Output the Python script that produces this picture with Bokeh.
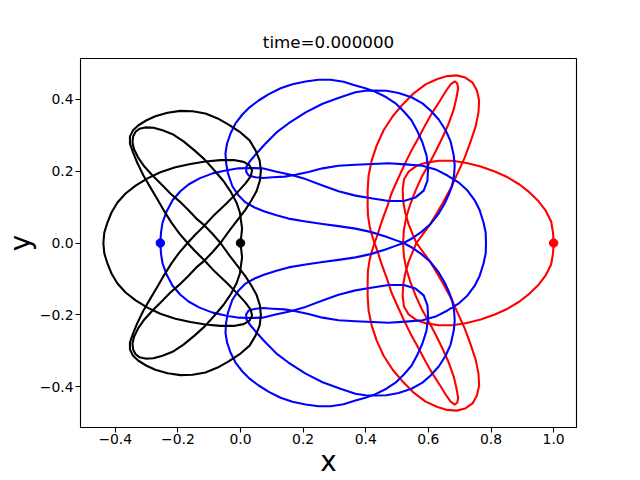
from bokeh.plotting import figure
from bokeh.models import Range1d, FixedTicker
from bokeh.embed import file_html
from bokeh.resources import INLINE

# ---- title / labels / ticks ----
title_text = "time=0.000000"
x_label = "x"
y_label = "y"
x_ticks = [-0.4, -0.2, 0.0, 0.2, 0.4, 0.6, 0.8, 1.0]
x_tick_labels = ["\u22120.4", "\u22120.2", "0.0", "0.2", "0.4", "0.6", "0.8", "1.0"]
y_ticks = [-0.4, -0.2, 0.0, 0.2, 0.4]
y_tick_labels = ["\u22120.4", "\u22120.2", "0.0", "0.2", "0.4"]

# ---- starting positions of the three bodies ----
body_colors = ["red", "blue", "black"]
start_x = [1.0, -0.256, 0.0]
start_y = [0.0, 0.0, 0.0]

# ---- black orbit (upper-half pieces and their mirror images) ----
black_a_x = [0.000, 0.005, -0.002, -0.013, -0.032, -0.054, -0.083, -0.115, -0.147, -0.182,
             -0.217, -0.249, -0.278, -0.304, -0.323, -0.335, -0.343, -0.345, -0.340, -0.327,
             -0.307, -0.281, -0.252, -0.224, -0.195, -0.166, -0.141, -0.115, -0.089, -0.064]
black_a_y = [0.000, 0.040, 0.085, 0.113, 0.144, 0.172, 0.202, 0.233, 0.258, 0.283,
             0.303, 0.314, 0.321, 0.322, 0.318, 0.310, 0.297, 0.280, 0.261, 0.238,
             0.213, 0.188, 0.163, 0.138, 0.116, 0.091, 0.068, 0.049, 0.025, 0.000]
black_a_y_low = [-0.000, -0.040, -0.085, -0.113, -0.144, -0.172, -0.202, -0.233, -0.258, -0.283,
                 -0.303, -0.314, -0.321, -0.322, -0.318, -0.310, -0.297, -0.280, -0.261, -0.238,
                 -0.213, -0.188, -0.163, -0.138, -0.116, -0.091, -0.068, -0.049, -0.025, -0.000]

black_b_x = [-0.169, -0.195, -0.220, -0.243, -0.265, -0.288, -0.310, -0.329, -0.343, -0.353,
             -0.353, -0.343, -0.326, -0.300, -0.272, -0.233, -0.192, -0.153, -0.112, -0.073,
             -0.038, 0.000, 0.029, 0.048, 0.061, 0.065, 0.062, 0.051, 0.035, 0.016,
             -0.006, -0.035, -0.064]
black_b_y = [0.000, 0.026, 0.056, 0.088, 0.121, 0.155, 0.188, 0.222, 0.252, 0.277,
             0.297, 0.314, 0.328, 0.342, 0.353, 0.363, 0.368, 0.367, 0.361, 0.347,
             0.330, 0.308, 0.286, 0.258, 0.230, 0.202, 0.174, 0.144, 0.119, 0.093,
             0.068, 0.035, 0.000]
black_b_y_low = [-0.000, -0.026, -0.056, -0.088, -0.121, -0.155, -0.188, -0.222, -0.252, -0.277,
                 -0.297, -0.314, -0.328, -0.342, -0.353, -0.363, -0.368, -0.367, -0.361, -0.347,
                 -0.330, -0.308, -0.286, -0.258, -0.230, -0.202, -0.174, -0.144, -0.119, -0.093,
                 -0.068, -0.035, -0.000]

black_c_x = [-0.438, -0.435, -0.425, -0.412, -0.393, -0.367, -0.335, -0.297, -0.256, -0.208,
             -0.160, -0.112, -0.064, -0.022, 0.010, 0.029, 0.037, 0.032, 0.016, -0.010,
             -0.045, -0.083, -0.118, -0.147, -0.169]
black_c_y = [0.000, 0.029, 0.057, 0.085, 0.113, 0.138, 0.160, 0.180, 0.197, 0.211,
             0.220, 0.227, 0.231, 0.231, 0.226, 0.216, 0.202, 0.185, 0.166, 0.141,
             0.110, 0.079, 0.046, 0.021, 0.000]
black_c_y_low = [-0.000, -0.029, -0.057, -0.085, -0.113, -0.138, -0.160, -0.180, -0.197, -0.211,
                 -0.220, -0.227, -0.231, -0.231, -0.226, -0.216, -0.202, -0.185, -0.166, -0.141,
                 -0.110, -0.079, -0.046, -0.021, -0.000]

# ---- blue orbit ----
blue_a_x = [-0.256, -0.254, -0.249, -0.236, -0.217, -0.192, -0.166, -0.131, -0.089, -0.048,
            -0.006, 0.032, 0.070, 0.112, 0.160, 0.208, 0.262, 0.313, 0.367, 0.422,
            0.473, 0.521, 0.559, 0.585, 0.597, 0.599, 0.594, 0.581, 0.565, 0.546,
            0.521, 0.495, 0.466, 0.431, 0.399, 0.367, 0.329, 0.288, 0.249, 0.208,
            0.166, 0.128, 0.089, 0.058, 0.029, 0.006, -0.016, -0.032, -0.043, -0.048,
            -0.046, -0.040, -0.026, -0.006, 0.016, 0.045, 0.077, 0.115, 0.153, 0.208,
            0.262, 0.313, 0.367, 0.415, 0.463, 0.495, 0.521]
blue_a_y = [0.000, 0.029, 0.057, 0.088, 0.119, 0.144, 0.163, 0.180, 0.194, 0.202,
            0.208, 0.209, 0.208, 0.199, 0.190, 0.178, 0.160, 0.144, 0.132, 0.124,
            0.117, 0.117, 0.127, 0.146, 0.174, 0.208, 0.244, 0.280, 0.311, 0.342,
            0.367, 0.389, 0.406, 0.421, 0.431, 0.439, 0.449, 0.455, 0.455, 0.450,
            0.442, 0.431, 0.414, 0.397, 0.378, 0.358, 0.333, 0.305, 0.277, 0.250,
            0.222, 0.194, 0.158, 0.132, 0.113, 0.099, 0.088, 0.077, 0.068, 0.060,
            0.053, 0.047, 0.040, 0.031, 0.018, 0.008, 0.000]
blue_a_y_low = [-0.000, -0.029, -0.057, -0.088, -0.119, -0.144, -0.163, -0.180, -0.194, -0.202,
                -0.208, -0.209, -0.208, -0.199, -0.190, -0.178, -0.160, -0.144, -0.132, -0.124,
                -0.117, -0.117, -0.127, -0.146, -0.174, -0.208, -0.244, -0.280, -0.311, -0.342,
                -0.367, -0.389, -0.406, -0.421, -0.431, -0.439, -0.449, -0.455, -0.455, -0.450,
                -0.442, -0.431, -0.414, -0.397, -0.378, -0.358, -0.333, -0.305, -0.277, -0.250,
                -0.222, -0.194, -0.158, -0.132, -0.113, -0.099, -0.088, -0.077, -0.068, -0.060,
                -0.053, -0.047, -0.040, -0.031, -0.018, -0.008, -0.000]

blue_b_x = [0.521, 0.550, 0.578, 0.607, 0.633, 0.652, 0.665, 0.676, 0.682, 0.684,
            0.681, 0.671, 0.655, 0.633, 0.607, 0.581, 0.546, 0.505, 0.466, 0.431,
            0.399, 0.367, 0.319, 0.262, 0.208, 0.153, 0.115, 0.080, 0.054, 0.032,
            0.019, 0.018, 0.026, 0.048, 0.073, 0.102, 0.141, 0.176, 0.217, 0.262,
            0.313, 0.367, 0.422, 0.473, 0.527, 0.581, 0.623, 0.661, 0.696, 0.725,
            0.748, 0.764, 0.776, 0.783, 0.784]
blue_b_y = [0.000, 0.014, 0.031, 0.053, 0.082, 0.110, 0.135, 0.160, 0.188, 0.216,
            0.244, 0.283, 0.314, 0.344, 0.369, 0.389, 0.406, 0.418, 0.424, 0.425,
            0.424, 0.420, 0.406, 0.388, 0.364, 0.333, 0.308, 0.277, 0.252, 0.230,
            0.213, 0.199, 0.188, 0.183, 0.181, 0.183, 0.185, 0.190, 0.198, 0.208,
            0.215, 0.218, 0.220, 0.222, 0.219, 0.215, 0.205, 0.188, 0.169, 0.146,
            0.119, 0.091, 0.057, 0.029, 0.000]
blue_b_y_low = [-0.000, -0.014, -0.031, -0.053, -0.082, -0.110, -0.135, -0.160, -0.188, -0.216,
                -0.244, -0.283, -0.314, -0.344, -0.369, -0.389, -0.406, -0.418, -0.424, -0.425,
                -0.424, -0.420, -0.406, -0.388, -0.364, -0.333, -0.308, -0.277, -0.252, -0.230,
                -0.213, -0.199, -0.188, -0.183, -0.181, -0.183, -0.185, -0.190, -0.198, -0.208,
                -0.215, -0.218, -0.220, -0.222, -0.219, -0.215, -0.205, -0.188, -0.169, -0.146,
                -0.119, -0.091, -0.057, -0.029, -0.000]

# ---- red orbit ----
red_a_x = [1.000, 0.998, 0.992, 0.974, 0.952, 0.923, 0.891, 0.853, 0.812, 0.767,
           0.722, 0.677, 0.633, 0.594, 0.562, 0.537, 0.522, 0.518, 0.519, 0.526,
           0.537, 0.550, 0.562]
red_a_y = [0.000, 0.029, 0.060, 0.091, 0.116, 0.141, 0.163, 0.183, 0.199, 0.213,
           0.223, 0.229, 0.229, 0.224, 0.215, 0.199, 0.177, 0.149, 0.119, 0.085,
           0.052, 0.024, 0.000]
red_a_y_low = [-0.000, -0.029, -0.060, -0.091, -0.116, -0.141, -0.163, -0.183, -0.199, -0.213,
               -0.223, -0.229, -0.229, -0.224, -0.215, -0.199, -0.177, -0.149, -0.119, -0.085,
               -0.052, -0.024, -0.000]

red_b_x = [0.428, 0.419, 0.412, 0.407, 0.406, 0.406, 0.409, 0.419, 0.435, 0.457,
           0.486, 0.518, 0.553, 0.591, 0.629, 0.660, 0.690, 0.718, 0.741, 0.755,
           0.762, 0.760, 0.751, 0.735, 0.716, 0.693, 0.671, 0.645, 0.623, 0.601,
           0.582, 0.562]
red_b_y = [0.000, 0.024, 0.049, 0.077, 0.105, 0.146, 0.188, 0.230, 0.272, 0.314,
           0.353, 0.386, 0.417, 0.442, 0.457, 0.465, 0.467, 0.461, 0.447, 0.425,
           0.397, 0.364, 0.325, 0.283, 0.238, 0.194, 0.152, 0.110, 0.077, 0.046,
           0.024, 0.000]
red_b_y_low = [-0.000, -0.024, -0.049, -0.077, -0.105, -0.146, -0.188, -0.230, -0.272, -0.314,
               -0.353, -0.386, -0.417, -0.442, -0.457, -0.465, -0.467, -0.461, -0.447, -0.425,
               -0.397, -0.364, -0.325, -0.283, -0.238, -0.194, -0.152, -0.110, -0.077, -0.046,
               -0.024, -0.000]

red_c_x = [0.428, 0.438, 0.447, 0.457, 0.470, 0.482, 0.502, 0.524, 0.546, 0.569,
           0.591, 0.613, 0.636, 0.655, 0.671, 0.684, 0.692, 0.695, 0.690, 0.681,
           0.665, 0.645, 0.623, 0.601, 0.578, 0.559, 0.543, 0.530, 0.522, 0.519]
red_c_y = [0.000, 0.024, 0.049, 0.074, 0.105, 0.138, 0.177, 0.219, 0.258, 0.294,
           0.330, 0.364, 0.395, 0.422, 0.442, 0.450, 0.445, 0.431, 0.406, 0.372,
           0.333, 0.294, 0.255, 0.219, 0.183, 0.146, 0.110, 0.074, 0.038, 0.000]
red_c_y_low = [-0.000, -0.024, -0.049, -0.074, -0.105, -0.138, -0.177, -0.219, -0.258, -0.294,
               -0.330, -0.364, -0.395, -0.422, -0.442, -0.450, -0.445, -0.431, -0.406, -0.372,
               -0.333, -0.294, -0.255, -0.219, -0.183, -0.146, -0.110, -0.074, -0.038, -0.000]

FONT = "DejaVu Sans"

p = figure(width=624, height=480,
           min_border_left=80, min_border_right=48, min_border_top=58, min_border_bottom=53,
           x_range=Range1d(-0.511, 1.073), y_range=Range1d(-0.514, 0.514),
           output_backend="svg", toolbar_location=None, title=title_text)

p.background_fill_color = "white"
p.border_fill_color = "white"
p.outline_line_color = "black"
p.outline_line_width = 1.1
p.xgrid.visible = False
p.ygrid.visible = False

p.title.align = "center"
p.title.text_font = FONT
p.title.text_font_size = "16.7px"
p.title.text_font_style = "normal"
p.title.text_color = "black"
p.title.standoff = 13

p.xaxis.ticker = FixedTicker(ticks=x_ticks)
p.yaxis.ticker = FixedTicker(ticks=y_ticks)
p.xaxis.major_label_overrides = dict(zip(x_ticks, x_tick_labels))
p.yaxis.major_label_overrides = dict(zip(y_ticks, y_tick_labels))
p.xaxis.axis_label = x_label
p.yaxis.axis_label = y_label

for ax in (p.xaxis[0], p.yaxis[0]):
    ax.axis_line_color = None
    ax.major_tick_line_color = "black"
    ax.major_tick_line_width = 1.1
    ax.major_tick_out = 5
    ax.major_tick_in = 0
    ax.minor_tick_line_color = None
    ax.major_label_text_font = FONT
    ax.major_label_text_font_size = "13.9px"
    ax.major_label_text_color = "black"
    ax.major_label_standoff = 2
    ax.axis_label_text_font = FONT
    ax.axis_label_text_font_size = "27.8px"
    ax.axis_label_text_font_style = "normal"
    ax.axis_label_text_color = "black"
    ax.axis_label_standoff = 0

p.xaxis[0].major_label_standoff = 1
p.xaxis[0].axis_label_standoff = -2

segments = [
    (red_a_x, red_a_y, red_a_y_low, "red"),
    (red_b_x, red_b_y, red_b_y_low, "red"),
    (red_c_x, red_c_y, red_c_y_low, "red"),
    (blue_a_x, blue_a_y, blue_a_y_low, "blue"),
    (blue_b_x, blue_b_y, blue_b_y_low, "blue"),
    (black_a_x, black_a_y, black_a_y_low, "black"),
    (black_b_x, black_b_y, black_b_y_low, "black"),
    (black_c_x, black_c_y, black_c_y_low, "black"),
]
for xs, yu, yl, col in segments:
    p.line(xs, yu, line_color=col, line_width=2.1, line_join="round")
    p.line(xs, yl, line_color=col, line_width=2.1, line_join="round")

p.scatter(start_x, start_y, size=8.5, color=body_colors, marker="circle")

open("out.html", "w").write(file_html(p, INLINE))
